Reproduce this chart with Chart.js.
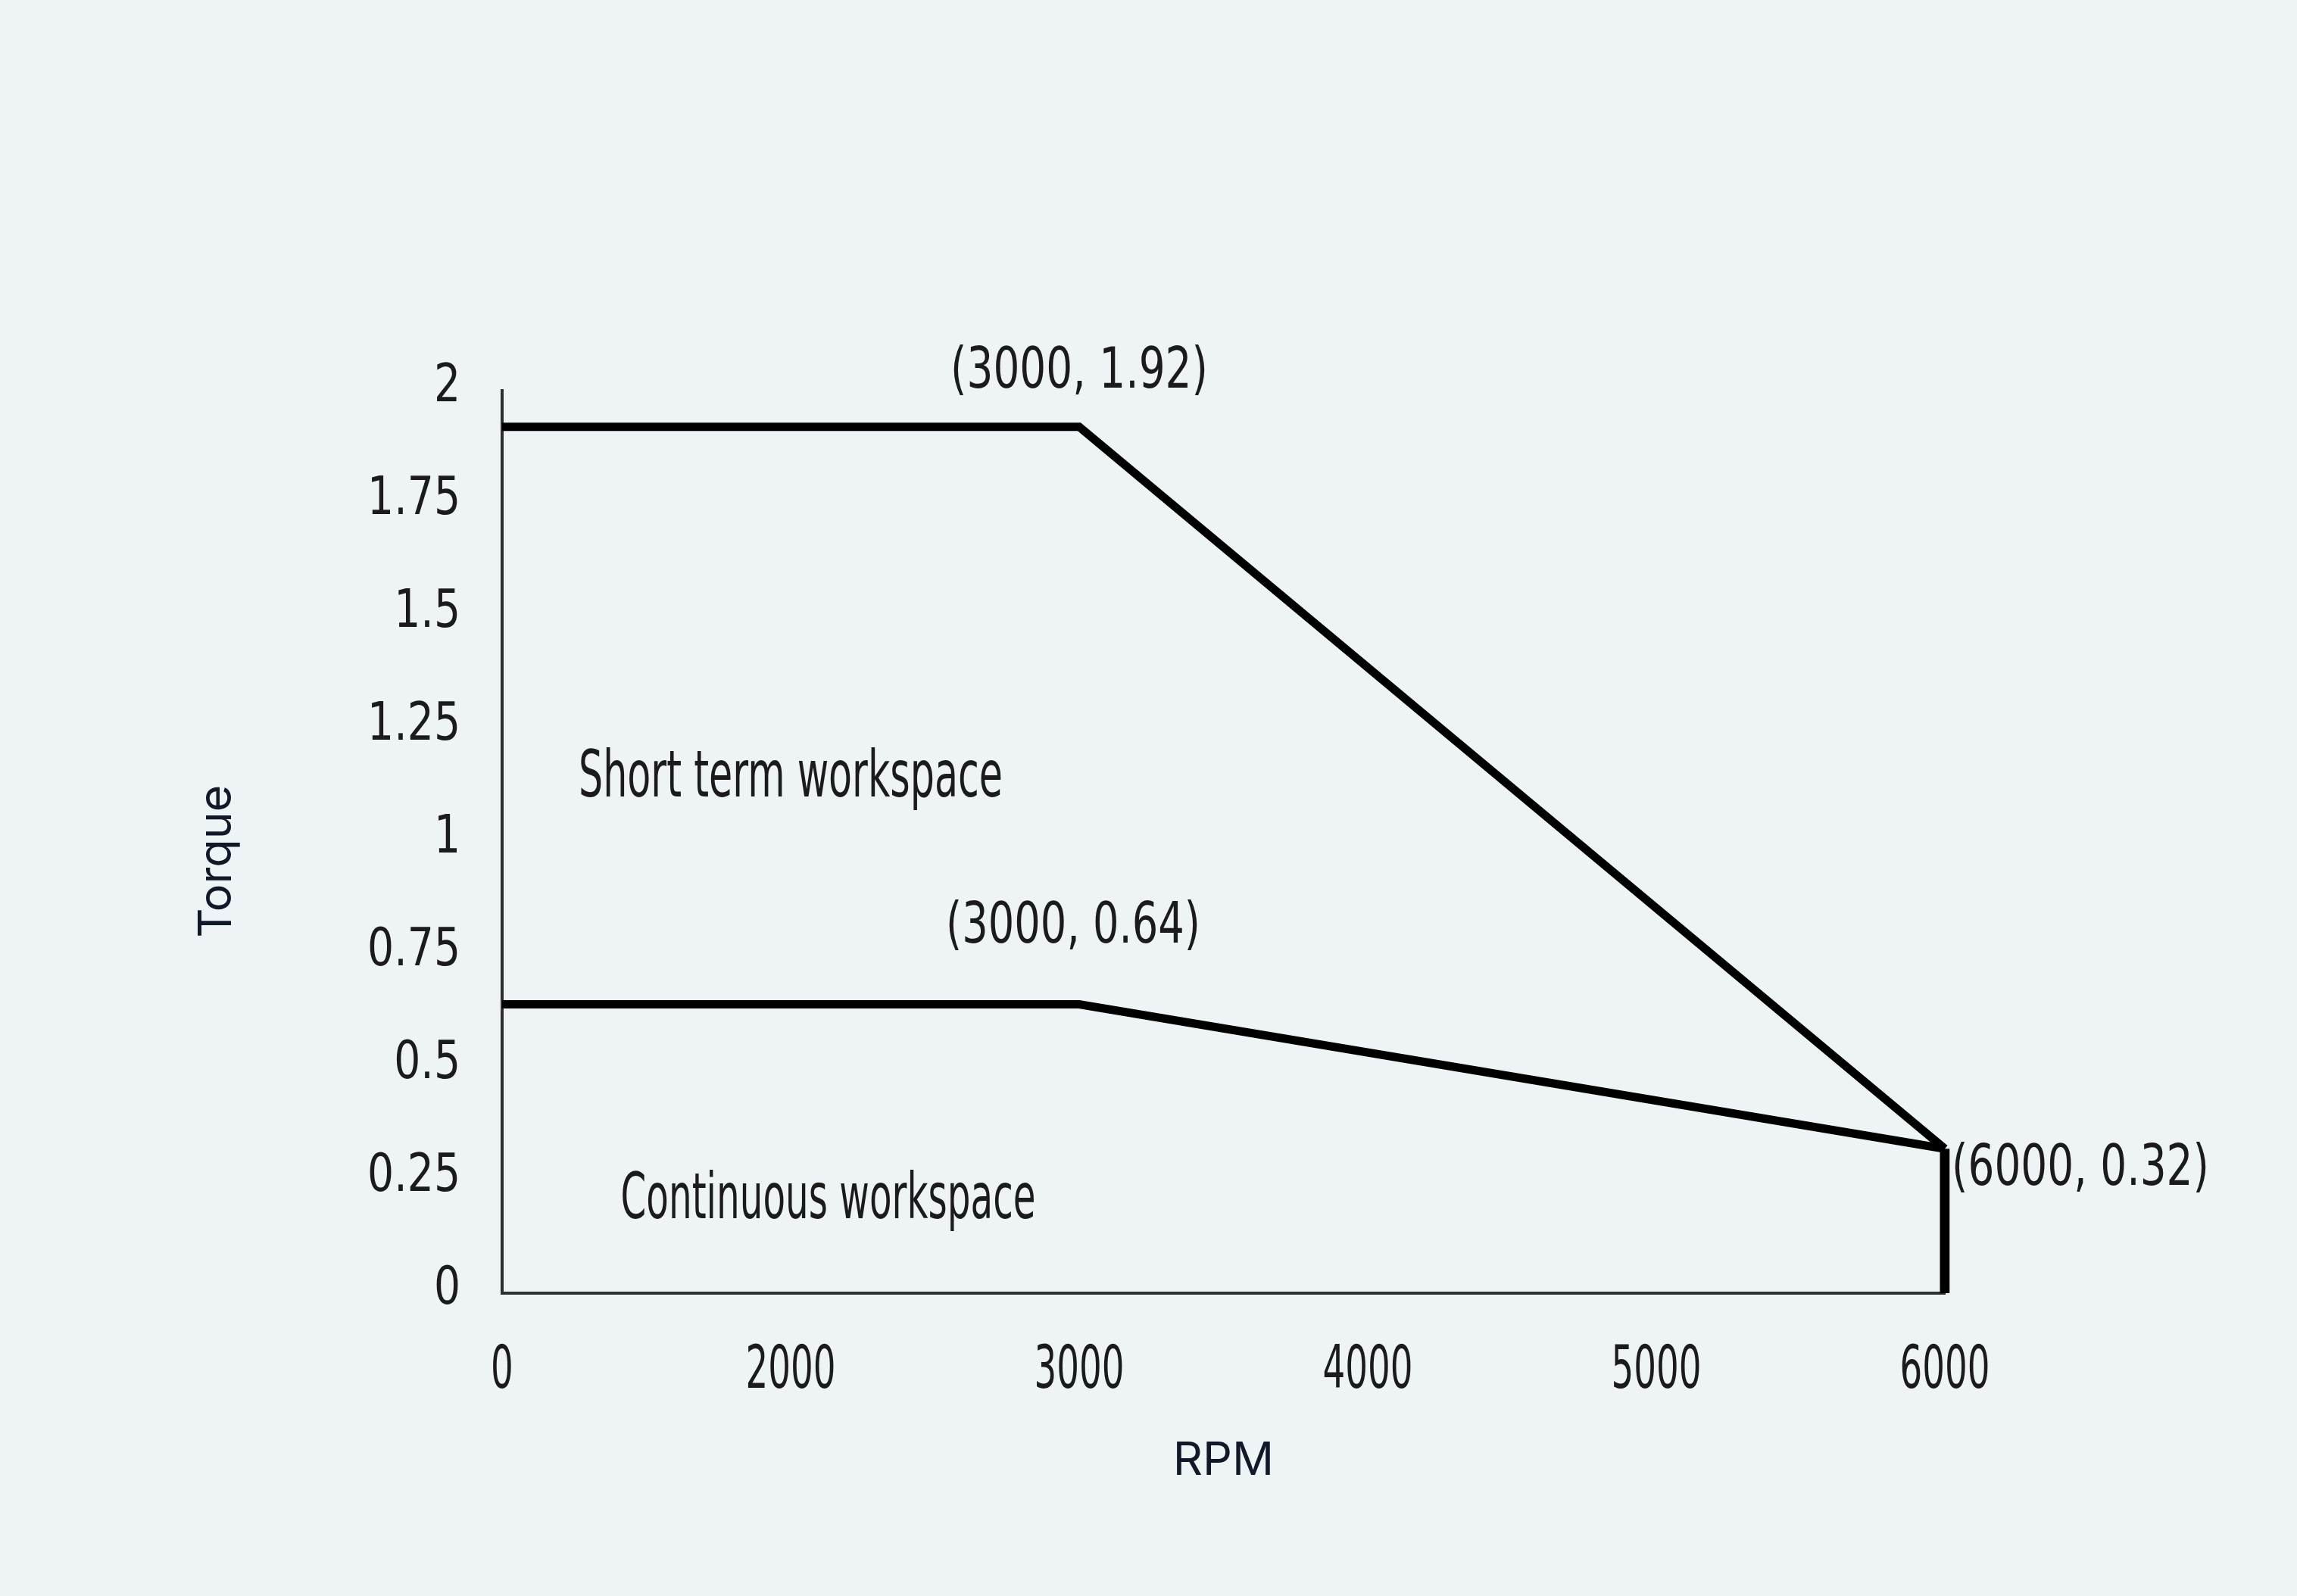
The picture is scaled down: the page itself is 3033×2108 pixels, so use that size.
<!DOCTYPE html>
<html>
<head>
<meta charset="utf-8">
<script src="https://cdn.jsdelivr.net/npm/chart.js@4.4.0/dist/chart.umd.min.js"></script>
<style>
    html, body { margin: 0; padding: 0; background: #eef3f6; }
    #box { width: 3033px; height: 2108px; position: relative; }
</style>
</head>
<body>
<div id="box"><canvas id="graficoTorque"></canvas></div>
<script>
// Dados do gráfico
const rpmLabels = ['0', '2000', '3000', '4000', '5000', '6000']
const torqueTicks = ['0', '0.25', '0.5', '0.75', '1', '1.25', '1.5', '1.75', '2']

const shortTermRpm = ['0', '3000', '6000']
const shortTermTorque = [1.92, 1.92, 0.32]

const continuousRpm = ['0', '3000', '6000']
const continuousTorque = [0.64, 0.64, 0.32]

const limitRpm = ['6000', '6000']
const limitTorque = [0.32, 0.0]

const noteTexts = ['(3000, 1.92)', '(3000, 0.64)', '(6000, 0.32)']
const noteRpm = ['3000', '3000', '6000']
const noteTorque = [1.92, 0.64, 0.32]

const regionTexts = ['Short term workspace', 'Continuous workspace']

const fonteTexto = "'DejaVu Sans', sans-serif"
const fonteTitulo = "Inter, 'Liberation Sans', sans-serif"

// quanto cada eixo aperta os rótulos na horizontal
const aperto = { x: 0.6, y: 0.8 }

function pontos(xs, ys) {
    return xs.map((x, i) => ({ x: x, y: ys[i] }))
}

// Rótulos dos eixos mais estreitos (fonte condensada não existe aqui)
const ticksEstreitos = {
    id: 'ticksEstreitos',
    afterLayout(chart) {
        Object.values(chart.scales).forEach(scale => {
            if (scale._estreito) return
            const desenhar = scale.drawLabels.bind(scale)
            const fator = aperto[scale.id] || 1
            scale.drawLabels = area => {
                const c = scale.ctx
                const fill = c.fillText
                c.fillText = function (t, x, y) {
                    fill.call(this, t, x, y, this.measureText(t).width * fator)
                }
                desenhar(area)
                c.fillText = fill
            }
            scale._estreito = true
        })
    }
}

// Textos dentro do gráfico
const notasPlugin = {
    id: 'notas',
    afterDatasetsDraw(chart) {
        const { ctx, scales: { x, y } } = chart
        ctx.save()
        ctx.fillStyle = '#1b1b1b'
        ctx.textBaseline = 'alphabetic'

        const estilos = [
            { dx: 0, dy: -52, align: 'center', size: 74, w: 340 },
            { dx: -8, dy: -82, align: 'center', size: 74, w: 336 },
            { dx: 9, dy: 48, align: 'left', size: 74, w: 340 }
        ]
        noteTexts.forEach((t, i) => {
            const s = estilos[i]
            const px = x.getPixelForValue(x.parse(noteRpm[i])) + s.dx
            const py = y.getPixelForValue(noteTorque[i]) + s.dy
            ctx.font = `${s.size}px ${fonteTexto}`
            ctx.textAlign = s.align
            ctx.fillText(t, px, py, s.w)
        })

        const regioes = [
            { xi: 1.0, yv: 1.10, size: 86, w: 560 },
            { xi: 1.13, yv: 0.166, size: 84, w: 548 }
        ]
        regionTexts.forEach((t, i) => {
            const r = regioes[i]
            ctx.font = `${r.size}px ${fonteTexto}`
            ctx.textAlign = 'center'
            ctx.fillText(t, x.getPixelForValue(r.xi), y.getPixelForValue(r.yv), r.w)
        })
        ctx.restore()
    }
}

const linha = {
    borderColor: '#000',
    borderWidth: 11,
    pointRadius: 0,
    tension: 0,
    borderJoinStyle: 'miter',
    fill: false
}

const ctx = document.getElementById('graficoTorque').getContext('2d')
const grafico = new Chart(ctx, {
    type: 'line',
    data: {
        labels: rpmLabels,
        datasets: [
            { ...linha, label: 'Short term', data: pontos(shortTermRpm, shortTermTorque) },
            { ...linha, label: 'Continuous', data: pontos(continuousRpm, continuousTorque) },
            { ...linha, label: 'Limit', borderWidth: 13, borderCapStyle: 'butt', data: pontos(limitRpm, limitTorque) }
        ]
    },
    options: {
        responsive: true,
        maintainAspectRatio: false,
        devicePixelRatio: 1,
        animation: false,
        layout: { padding: { left: 0, top: 516, right: 465, bottom: 0 } },
        plugins: {
            legend: { display: false },
            tooltip: { enabled: false }
        },
        scales: {
            x: {
                type: 'category',
                offset: false,
                grid: { display: false, drawTicks: false },
                border: { display: true, color: '#2e2e2e', width: 4 },
                ticks: {
                    color: '#1b1b1b',
                    font: { family: fonteTexto, size: 78 },
                    padding: 58,
                    maxRotation: 0,
                    autoSkip: false
                },
                title: {
                    display: true,
                    text: 'RPM',
                    color: '#111827',
                    font: { family: fonteTitulo, size: 61 },
                    padding: { top: 0, bottom: 142 }
                },
                afterFit(scale) {
                    scale.height = 400
                    scale.paddingLeft = 0
                    scale.paddingRight = 0
                }
            },
            y: {
                min: 0,
                max: 2,
                grid: { display: false, drawTicks: false },
                border: { display: true, color: '#2e2e2e', width: 4 },
                ticks: {
                    stepSize: 0.25,
                    color: '#1b1b1b',
                    font: { family: fonteTexto, size: 69 },
                    padding: 55,
                    labelOffset: -4,
                    callback: (v, i) => torqueTicks[i]
                },
                title: {
                    display: true,
                    text: 'Torque   ',
                    color: '#111827',
                    font: { family: fonteTitulo, size: 61 },
                    padding: { top: 250, bottom: 0 }
                },
                afterFit(scale) {
                    scale.width = 663
                    scale.paddingTop = 0
                    scale.paddingBottom = 0
                }
            }
        }
    },
    plugins: [ticksEstreitos, notasPlugin]
})
</script>
</body>
</html>
